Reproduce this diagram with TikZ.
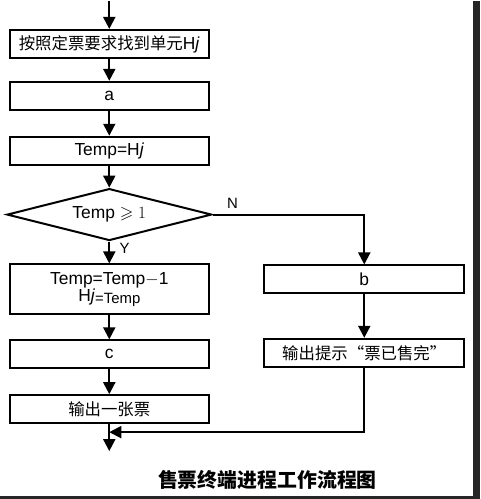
\documentclass[tikz,border=0pt]{standalone}
\usepackage{amsmath}
\usepackage{amssymb}
\usepackage{fontspec}
\setmainfont{Liberation Sans}
\newfontfamily\cjk{Noto Sans CJK SC}
\usepackage{tikz}
\usetikzlibrary{positioning,calc,arrows.meta,shapes.geometric}

\tikzset{
	stepbox/.style={draw=black, line width=2bp, minimum width=199bp, minimum height=28bp, inner sep=0pt, align=center, font=\fontsize{17.5}{20}\selectfont},
	flow/.style={line width=2bp, -{Triangle[length=12bp,width=12bp]}},
}

\begin{document}
\begin{tikzpicture}[x=1bp,y=-1bp]
		\fill[black!85] (0,0) rectangle (481,499);
		\fill[white] (0,0) rectangle (474,496);
		\coordinate (start) at (109.5,0);
		\node[stepbox] (find) at (109.5,43) {{\cjk\fontsize{16.5}{19}\selectfont 按照定票要求找到单元}H\textit{j}};
		\node[stepbox, below=22bp of find] (a) {a};
		\node[stepbox, below=25bp of a] (temp) {Temp=H\textit{j}};
		\node[draw=black, line width=2bp, diamond, aspect=3.95, minimum width=205bp, minimum height=52bp, inner sep=0pt, font=\fontsize{17.5}{20}\selectfont] (test) at (109.5,214) {Temp $\geqslant 1$};
		\node[stepbox, minimum height=50bp, anchor=north] (dec) at (109.5,263) {Temp=Temp$-$1\\[-3bp]H\textit{j}\raisebox{-2bp}{\fontsize{15}{17}\selectfont=Temp}};
		\node[stepbox, below=24bp of dec] (c) {c};
		\node[stepbox, below=25bp of c] (out) {{\cjk\fontsize{16.5}{19}\selectfont 输出一张票}};
		\node[stepbox, minimum width=200bp] (b) at (365,279) {b};
		\node[stepbox, minimum width=200bp] (none) at (365,352.5) {{\cjk\fontsize{16.5}{19}\selectfont 输出提示“票已售完”}};
		\coordinate (join) at (109.5,432);
		\coordinate (end) at (109.5,451);
		\coordinate (turn) at (365,214);
		
		\draw[flow] (start)--(find);
		\draw[flow] (find)--(a);
		\draw[flow] (a)--(temp);
		\draw[flow] (temp)--(test);
		\draw[flow] (test)--(dec) node[pos=0.3, right=6bp, font=\fontsize{15}{17}\selectfont] (yes) {Y};
		\draw[flow] (test.east)--(turn)--(b);
		\node[font=\fontsize{15}{17}\selectfont] (no) at (233,203) {N};
		\draw[flow] (dec)--(c);
		\draw[flow] (c)--(out);
		\draw[flow] (b)--(none);
		\draw[flow] (out)--(end);
		\draw[flow] (none.south)|-(join);
		
		\node[font=\cjk\bfseries\fontsize{20}{24}\selectfont] (title) at (268,480) {售票终端进程工作流程图};
	\end{tikzpicture}
\end{document}
